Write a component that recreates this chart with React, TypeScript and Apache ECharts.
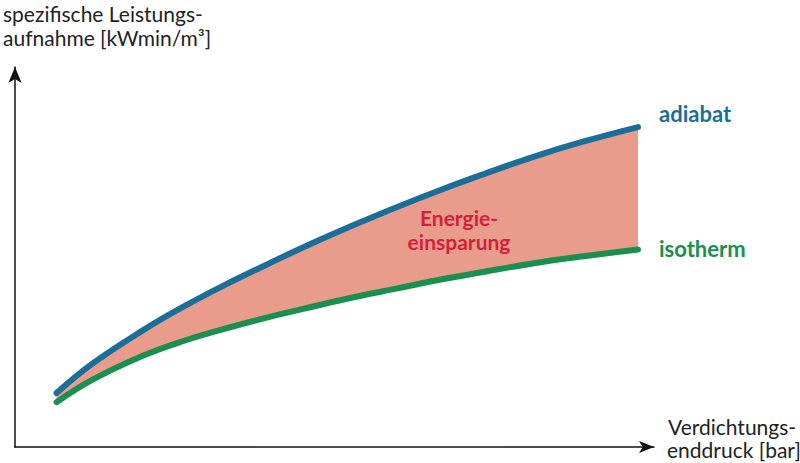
import React, { useEffect, useRef } from "react";
import * as echarts from "echarts";

// x: Verdichtungsenddruck (relative units), y: spezifische Leistungsaufnahme (relative units)
const pressure = [0.65, 1.2, 2.0, 2.6, 3.3, 4.0, 4.65, 5.3, 6.0, 6.7, 7.3, 8.1, 8.9, 9.75];
const adiabat = [1.42, 2.18, 3.07, 3.66, 4.28, 4.85, 5.36, 5.84, 6.33, 6.79, 7.16, 7.63, 8.04, 8.42];
const isotherm = [1.18, 1.76, 2.4, 2.77, 3.12, 3.43, 3.69, 3.94, 4.18, 4.42, 4.6, 4.83, 5.02, 5.2];

const yAxisTitle = ["spezifische Leistungs-", "aufnahme [kWmin/m³]"];
const xAxisTitle = ["Verdichtungs-", "enddruck [bar]"];
const savingLabel = ["Energie-", "einsparung"];

const BLUE = "#1b6e98";
const GREEN = "#198f50";
const FILL = "#e99b8c";
const RED = "#d41f3d";
const FONT = "Lato, 'Open Sans', sans-serif";

export default function App() {
  const ref = useRef<HTMLDivElement>(null);
  useEffect(() => {
    if (!ref.current) return;
    const chart = echarts.init(ref.current, null, { renderer: "svg" });
    const isoPts = pressure.map((x, i) => [x, isotherm[i]]);
    const adiPts = pressure.map((x, i) => [x, adiabat[i]]);
    const smooth = 0.4;
    chart.setOption({
      animation: false,
      grid: { left: 15, right: 146, top: 67, bottom: 16 },
      xAxis: {
        type: "value",
        min: 0,
        max: 10,
        axisLine: {
          show: true,
          onZero: false,
          symbol: ["none", "arrow"],
          symbolSize: [9, 15],
          lineStyle: { color: "#111", width: 1.5 },
        },
        axisTick: { show: false },
        axisLabel: { show: false },
        splitLine: { show: false },
      },
      yAxis: {
        type: "value",
        min: 0,
        max: 10,
        axisLine: {
          show: true,
          onZero: false,
          symbol: ["none", "arrow"],
          symbolSize: [10, 16],
          lineStyle: { color: "#111", width: 1.5 },
        },
        axisTick: { show: false },
        axisLabel: { show: false },
        splitLine: { show: false },
      },
      series: [
        {
          type: "custom",
          silent: true,
          z: 1,
          data: [[pressure[0], adiabat[0]]],
          renderItem: (params: any, api: any) => {
            if (params.dataIndex !== 0) return null;
            const top = adiPts.map((p) => api.coord(p));
            const bottom = isoPts.slice().reverse().map((p) => api.coord(p));
            return {
              type: "polygon",
              shape: { points: top.concat(bottom) },
              style: { fill: FILL },
            };
          },
        },
        {
          type: "line",
          name: "adiabat",
          data: adiPts,
          smooth,
          showSymbol: false,
          z: 3,
          lineStyle: { color: BLUE, width: 6, cap: "round" },
        },
        {
          type: "line",
          name: "isotherm",
          data: isoPts,
          smooth,
          showSymbol: false,
          z: 3,
          lineStyle: { color: GREEN, width: 6, cap: "round" },
        },
      ],
      graphic: [
        { type: "text", z: 100, left: 3, top: 3, style: { text: yAxisTitle[0], font: `21px ${FONT}`, fill: "#222" } },
        { type: "text", z: 100, left: 3, top: 27, style: { text: yAxisTitle[1], font: `21px ${FONT}`, fill: "#222" } },
        { type: "text", z: 100, left: 668, top: 416, style: { text: xAxisTitle[0], font: `21px ${FONT}`, fill: "#222" } },
        { type: "text", z: 100, left: 667, top: 439, style: { text: xAxisTitle[1], font: `21px ${FONT}`, fill: "#222" } },
        { type: "text", z: 100, left: 659, top: 102, style: { text: "adiabat", font: `bold 22px ${FONT}`, fill: BLUE } },
        { type: "text", z: 100, left: 659, top: 237, style: { text: "isotherm", font: `bold 22px ${FONT}`, fill: GREEN } },
        {
          type: "text",
          z: 100,
          x: 459,
          y: 207,
          style: { text: savingLabel[0], font: `bold 21px ${FONT}`, fill: RED, align: "center" },
        },
        {
          type: "text",
          z: 100,
          x: 459,
          y: 231,
          style: { text: savingLabel[1], font: `bold 21px ${FONT}`, fill: RED, align: "center" },
        },
      ],
    });
    return () => chart.dispose();
  }, []);
  return (
    <div
      ref={ref}
      style={{ position: "fixed", left: 0, top: 0, width: 800, height: 463, background: "#fff" }}
    />
  );
}
